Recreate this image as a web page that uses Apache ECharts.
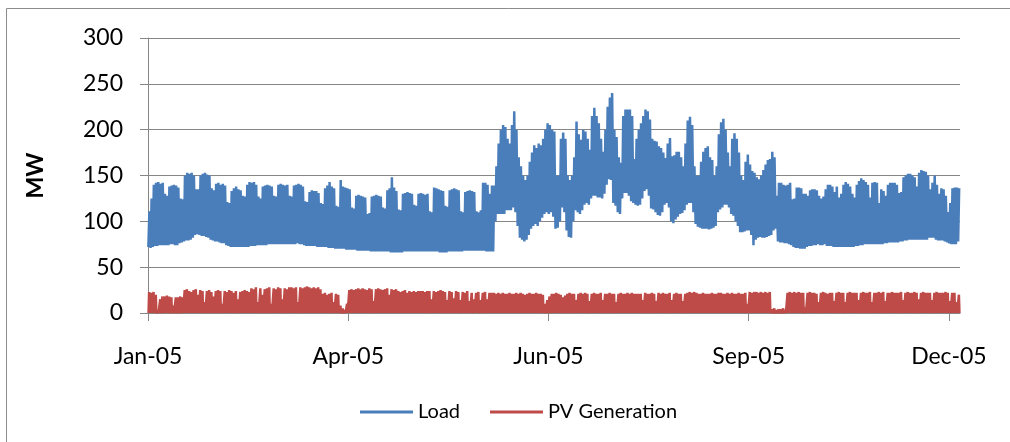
<!DOCTYPE html>
<html><head><meta charset="utf-8">
<script src="https://cdn.jsdelivr.net/npm/echarts@6/dist/echarts.min.js"></script>
<style>html,body{margin:0;padding:0;background:#fff}#c{width:1010px;height:442px}</style>
</head><body><div id="c"></div>
<script>
// X axis tick labels and their hour positions (hourly data, 8760 h)
const tickLabels = ['Jan-05','Apr-05','Jun-05','Sep-05','Dec-05'];
const tickHours = [0,2160,4320,6480,8640];

// Daily maximum load (MW), one value per day
const loadMax = [
111,125,140,142,143,141,142, 130,128,138,139,140,139,137, 125,124,150,153,152,153,150,
135,135,150,152,153,151,150, 136,134,141,142,140,141,139, 121,120,133,136,138,135,134,
128,127,140,143,142,143,140, 127,125,138,139,140,139,138, 128,127,140,141,140,139,140,
128,127,139,140,141,140,138, 122,121,132,134,133,133,131, 120,119,136,139,143,138,136,
117,116,145,138,137,136,135, 115,114,128,129,128,127,126, 108,109,127,128,129,128,127,
115,114,134,136,148,137,133, 113,112,130,131,132,131,130, 118,117,130,131,130,129,130,
111,110,137,136,135,134,133, 117,116,134,135,136,135,134, 111,110,132,133,134,133,132,
111,110,112,142,142,140,130, 139,139,160,185,200,205,203, 190,185,205,220,200,170,160,
150,145,150,165,175,183,180, 185,183,190,200,207,205,200, 198,150,150,190,197,190,150,
145,150,170,209,195,189,200, 198,190,178,215,224,215,207, 190,176,200,225,235,240,200,
192,170,164,215,222,222,222, 215,168,190,200,207,215,222, 220,211,190,188,187,182,180,
175,169,185,191,171,172,176, 176,170,160,185,210,214,205, 160,150,150,165,176,180,182,
170,167,150,160,195,208,212, 200,175,160,190,196,190,175, 150,145,165,173,162,155,153,
148,146,150,156,162,167,168, 176,170,128,142,142,140,139, 140,142,124,125,137,137,136,
130,130,128,134,135,135,134, 128,125,127,135,140,140,138, 132,138,126,130,140,143,141,
138,130,126,140,144,147,145, 143,140,126,142,143,142,120, 135,133,128,140,142,142,142,
140,131,132,148,150,152,152, 150,148,138,153,156,155,154, 150,135,142,150,140,130,136,
135,128,110,120,136,137,137, 136
];

// Daily minimum load (MW)
const loadMin = [
72,71,72,73,73,74,74, 74,74,74,75,75,74,74, 76,77,78,79,79,80,82,
85,86,85,84,84,83,82, 80,79,78,78,77,76,76, 74,73,72,72,72,72,72,
72,72,72,72,73,73,73, 74,74,74,74,74,75,75, 75,75,75,75,75,75,75,
75,75,75,75,76,75,75, 74,73,73,73,73,73,72, 72,72,72,72,71,71,71,
70,70,70,70,70,69,69, 69,69,69,68,68,68,68, 68,68,67,67,67,67,67,
67,67,67,67,66,66,66, 66,66,66,67,67,67,67, 67,67,67,67,67,67,67,
67,67,67,67,67,66,66, 66,66,67,67,67,67,67, 67,67,68,68,68,68,68,
68,68,68,68,68,67,67, 67,67,100,108,108,108,108, 112,112,112,115,110,95,82,
80,78,80,85,92,95,97, 95,100,104,108,110,108,110, 105,92,93,100,115,110,90,
83,82,100,112,110,108,112, 118,120,118,125,128,128,126, 126,125,130,140,146,145,120,
117,110,108,125,131,131,128, 122,120,118,117,118,125,133, 135,128,114,113,110,107,106,
110,118,120,115,100,98,102, 105,108,109,112,118,120,120, 110,97,94,93,92,92,92,
91,92,93,95,110,113,115, 118,118,115,108,106,100,95, 88,88,89,90,90,85,74,
80,82,83,82,82,83,84, 85,90,92,78,77,77,76, 76,75,74,72,71,71,70,
70,70,72,73,73,74,74, 75,74,74,75,73,73,73, 72,72,72,72,72,72,72,
72,72,72,73,73,74,74, 75,75,75,75,75,75,75, 75,75,76,76,77,77,77,
77,77,78,78,79,79,80, 80,80,80,80,80,80,80, 80,82,82,82,80,79,79,
79,78,77,76,75,75,75, 78
];

// Daily peak PV generation (MW)
const pvMax = [
23,22,23,20,3,15,18, 18,19,18,17,8,17,17, 18,17,25,26,24,23,25,
26,20,25,24,12,24,25, 23,18,24,25,24,10,24, 23,25,24,22,24,15,23,
24,25,24,23,27,26,28, 12,27,20,26,27,28,10, 27,26,28,27,15,27,26,
28,28,27,28,12,28,27, 28,29,28,27,28,27,28, 26,21,22,20,21,22,12,
21,20,8,5,3,10,25, 26,25,26,27,26,27,26, 25,27,26,13,26,27,26,
25,26,27,20,26,25,26, 24,23,24,25,22,24,23, 24,23,24,24,24,23,24,
24,15,24,23,24,25,24, 23,14,24,23,16,24,23, 14,23,22,24,13,22,15,
22,23,14,22,23,15,22, 22,22,21,22,21,22,21, 21,22,21,21,22,21,22,
21,20,21,22,21,21,22, 21,21,20,10,14,18,21, 21,22,21,20,17,19,21,
22,21,21,14,21,22,21, 22,21,13,21,22,21,21, 22,14,21,21,22,21,21,
12,21,22,21,21,22,21, 22,21,21,21,21,14,22, 21,21,22,21,13,22,21,
22,21,21,22,14,21,22, 21,21,13,21,22,23,22, 23,22,21,21,22,21,21,
21,22,21,21,22,22,21, 21,22,21,22,21,21,22, 21,21,22,10,23,22,23,
23,22,23,22,23,22,23, 4,5,3,4,4,5,3, 22,23,22,23,22,23,22,
22,6,22,23,22,22,21, 12,22,23,22,21,22,22, 13,22,23,22,22,12,22,
23,22,22,22,14,22,23, 22,22,23,12,22,22,23, 22,23,13,22,22,23,22,
22,22,23,14,22,23,22, 22,23,22,15,22,23,22, 22,22,14,22,23,22,22,
22,23,22,13,22,22,12, 20
];

const loadData = [];
const pvData = [];
for (let d = 0; d < loadMax.length; d++) {
  loadData.push([d * 24 + 4, loadMin[d]]);
  loadData.push([d * 24 + 15, loadMax[d]]);
  pvData.push([d * 24 + 6, 0]);
  pvData.push([d * 24 + 12, pvMax[d]]);
  pvData.push([d * 24 + 18, 0]);
}

const FONT = 'Lato';
const AXIS = '#868686';
const chart = echarts.init(document.getElementById('c'), null, {renderer: 'canvas'});
chart.setOption({
  animation: false,
  backgroundColor: '#fff',
  graphic: [{
    type: 'rect', silent: true, z: -10,
    shape: {x: 6.5, y: 8.5, width: 1100, height: 1000},
    style: {fill: 'none', stroke: '#8c8c8c', lineWidth: 1}
  }],
  grid: {left: 148, right: 50, top: 38, bottom: 129, outerBoundsMode: 'none'},
  legend: {
    data: ['Load', 'PV Generation'],
    left: 355, top: 397,
    icon: 'rect', itemWidth: 53, itemHeight: 3, itemGap: 30,
    textStyle: {fontFamily: FONT, fontSize: 20, color: '#000'}
  },
  xAxis: {
    type: 'value', min: 0, max: 8760,
    splitLine: {show: false},
    axisLine: {show: true, lineStyle: {color: AXIS, width: 1}},
    axisTick: {show: true, customValues: tickHours, length: 8, lineStyle: {color: AXIS}},
    axisLabel: {
      customValues: tickHours,
      formatter: v => tickLabels[tickHours.indexOf(v)],
      fontFamily: FONT, fontSize: 23, color: '#000', margin: 32
    }
  },
  yAxis: {
    type: 'value', min: 0, max: 300, interval: 50,
    name: 'MW', nameLocation: 'middle', nameRotate: 90, nameGap: 101,
    nameTextStyle: {fontFamily: FONT, fontWeight: 'bold', fontSize: 23, color: '#000'},
    axisLine: {show: true, lineStyle: {color: AXIS, width: 1}},
    axisTick: {show: true, length: 8, lineStyle: {color: AXIS}},
    axisLabel: {fontFamily: FONT, fontSize: 23, color: '#000', margin: 25},
    splitLine: {show: true, lineStyle: {color: AXIS, width: 1}}
  },
  series: [
    {
      name: 'Load', type: 'line', data: loadData,
      symbol: 'none', showSymbol: false,
      lineStyle: {color: '#4A7EBB', width: 2.5},
      itemStyle: {color: '#4A7EBB'}
    },
    {
      name: 'PV Generation', type: 'line', data: pvData,
      symbol: 'none', showSymbol: false,
      lineStyle: {color: '#BE4B48', width: 2.5},
      itemStyle: {color: '#BE4B48'}
    }
  ]
});
</script>
</body></html>
